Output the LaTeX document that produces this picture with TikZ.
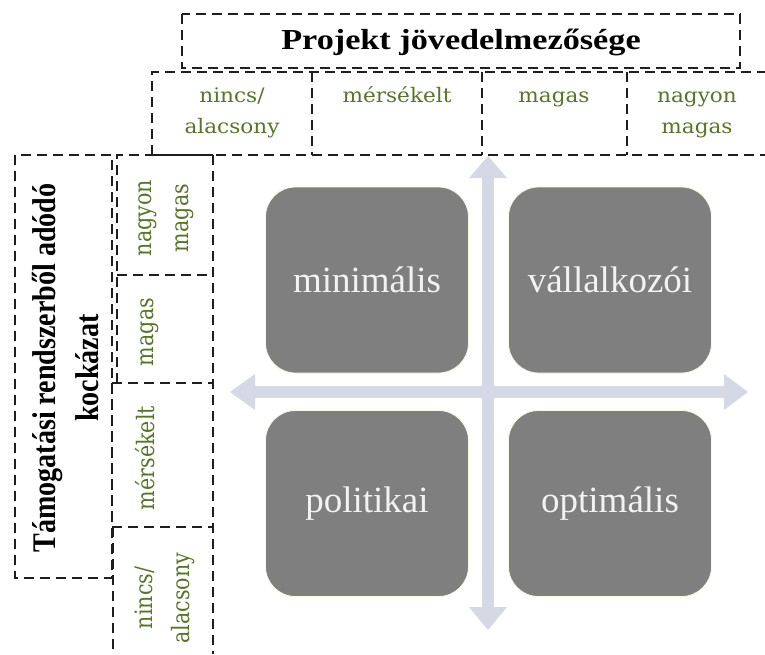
\documentclass[tikz,border=0pt]{standalone}
\usepackage{fontspec}
\setmainfont{Liberation Serif}
\newfontfamily\titlefont[FakeStretch=1.18]{Liberation Serif}
\newfontfamily\vtitlefont[FakeStretch=0.85]{Liberation Serif}
\newfontfamily\labfont[FakeStretch=1.08]{DejaVu Serif}
\newfontfamily\vlabfont[FakeStretch=0.86]{DejaVu Serif}
\newfontfamily\quadfont{Liberation Serif}
\definecolor{dashcol}{RGB}{30,30,30}
\definecolor{labgreen}{RGB}{88,115,42}
\definecolor{arrowcol}{RGB}{213,217,230}
\definecolor{quadgray}{RGB}{127,127,127}
\definecolor{quadedge}{RGB}{250,248,225}
\definecolor{quadtext}{RGB}{242,242,242}
\begin{document}
\begin{tikzpicture}[x=1pt,y=-1pt,
  dbox/.style={draw=dashcol, line width=2.8pt, dash pattern=on 10pt off 6pt},
  hlab/.style={text=labgreen, font=\labfont\fontsize{20}{31}\selectfont, align=center, anchor=base, inner sep=0pt},
  vlab/.style={text=labgreen, font=\vlabfont\fontsize{24}{37}\selectfont, align=center, rotate=90, inner sep=0pt},
  quad/.style={fill=quadgray, draw=quadedge, line width=0.8pt, rounded corners=30pt,
    minimum width=203pt, minimum height=186pt, text=quadtext,
    font=\quadfont\fontsize{37}{40}\selectfont, inner sep=0pt},
  axis/.style={fill=arrowcol}
]
\useasboundingbox (0,0) rectangle (765,654);

% top title and column header
\draw[dbox] (182,14) rectangle (740,68);
\node[font=\titlefont\bfseries\fontsize{29}{32}\selectfont, inner sep=0pt] (title) at (461,42) {Projekt jövedelmezősége};
\draw[dbox] (152,155) -- (152,72) -- (765,72);
\draw[dbox] (152,155) -- (765,155);
\draw[dbox] (312,72) -- (312,155);
\draw[dbox] (482,72) -- (482,155);
\draw[dbox] (627,72) -- (627,155);
\node[hlab] (c1) at (232,133) {nincs/\\alacsony};
\node[hlab] (c2) at (397,102) {mérsékelt};
\node[hlab] (c3) at (554,102) {magas};
\node[hlab] (c4) at (697,133) {nagyon\\magas};

% left title and row header
\draw[dbox] (15,155) rectangle (112,578);
\node[font=\vtitlefont\bfseries\fontsize{33}{43}\selectfont, align=center, rotate=90, inner sep=0pt] (vtitle) at (66,368) {Támogatási rendszerből adódó\\kockázat};
\draw[dbox] (117,383) -- (117,155) -- (213,155);
\draw[dbox] (213,155) -- (213,654);
\draw[dbox] (117,275) -- (213,275);
\draw[dbox] (112,383) -- (213,383);
\draw[dbox] (112,383) -- (112,527);
\draw[dbox] (112,527) -- (213,527);
\draw[dbox] (113,527) -- (113,654);
\node[vlab] (r1) at (166,218) {nagyon\\magas};
\node[vlab] (r2) at (150,332) {magas};
\node[vlab] (r3) at (145,458) {mérsékelt};
\node[vlab] (r4) at (165,598) {nincs/\\alacsony};

% axes
\coordinate (up) at (488,156);
\coordinate (down) at (488,630);
\coordinate (left) at (230,392);
\coordinate (right) at (748,392);
\fill[axis] (482,176) rectangle (494,610);
\fill[axis] (469,178) -- (up) -- (507,178) -- cycle;
\fill[axis] (469,607) -- (down) -- (507,607) -- cycle;
\fill[axis] (252,386) rectangle (726,398);
\fill[axis] (255,374) -- (left) -- (255,410) -- cycle;
\fill[axis] (724,374) -- (right) -- (724,410) -- cycle;

% quadrants
\node[quad] (q1) at (367,280) {minimális};
\node[quad] (q2) at (610,280) {vállalkozói};
\node[quad] (q3) at (367,503.5) {politikai};
\node[quad] (q4) at (610,503.5) {optimális};
\end{tikzpicture}
\end{document}
